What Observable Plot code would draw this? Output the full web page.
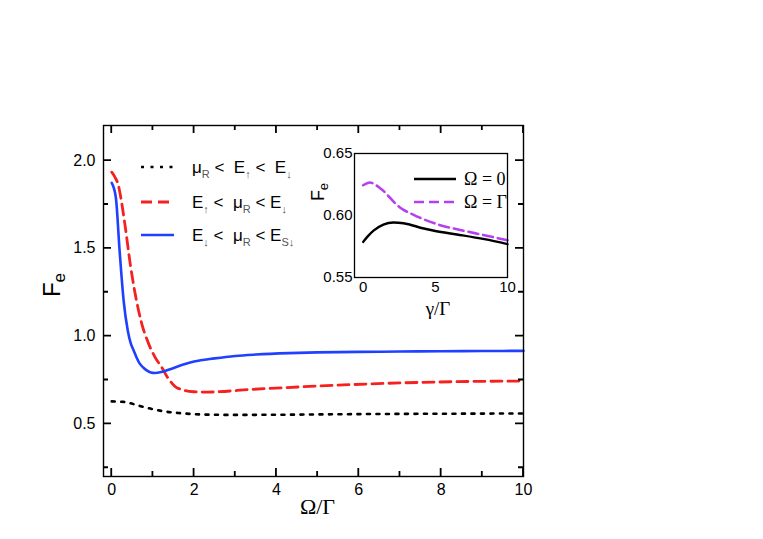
<!DOCTYPE html>
<html><head><meta charset="utf-8">
<script src="https://cdn.jsdelivr.net/npm/d3@7"></script>
<script src="https://cdn.jsdelivr.net/npm/@observablehq/plot@0.6"></script>
<style>
body{margin:0;background:#fff}
</style>
</head><body><div id="wrap"></div>
<script>
// ---- main panel data (F_e vs Ω/Γ) ----
const blackX = [0, 0.3, 0.65, 0.97, 1.3, 1.66, 2.23, 2.88, 4.1, 5.7, 7.3, 10];
const blackY = [0.628, 0.625, 0.604, 0.585, 0.570, 0.561, 0.553, 0.551, 0.552, 0.555, 0.557, 0.559];
const redX = [0, 0.08, 0.16, 0.22, 0.33, 0.45, 0.57, 0.73, 0.89, 1.05, 1.22, 1.34, 1.45, 1.58, 1.99, 2.3, 3.45, 5.07, 6.7, 8.3, 10];
const redY = [1.934, 1.905, 1.86, 1.79, 1.62, 1.41, 1.24, 1.07, 0.96, 0.88, 0.82, 0.77, 0.735, 0.706, 0.683, 0.681, 0.697, 0.716, 0.731, 0.740, 0.744];
const blueX = [0, 0.1, 0.19, 0.29, 0.39, 0.46, 0.53, 0.6, 0.68, 0.77, 0.85, 0.95, 1.05, 1.2, 1.4, 1.7, 2.0, 2.5, 3, 3.5, 4.3, 5, 6, 7, 8, 9, 10];
const blueY = [1.873, 1.79, 1.49, 1.20, 1.03, 0.96, 0.92, 0.88, 0.843, 0.82, 0.805, 0.793, 0.79, 0.795, 0.81, 0.835, 0.855, 0.873, 0.887, 0.895, 0.903, 0.907, 0.910, 0.912, 0.914, 0.915, 0.916];

// ---- inset data (F_e vs γ/Γ) ----
const insetBlackX = [0, 0.3, 0.74, 1.4, 2.1, 2.8, 4.2, 5, 6.5, 8.4, 10];
const insetBlackY = [0.5787, 0.583, 0.588, 0.5927, 0.5944, 0.5938, 0.5895, 0.5875, 0.5847, 0.5809, 0.5769];
const insetPurpleX = [0, 0.46, 1.2, 2.5, 3.8, 5.2, 6.8, 8.4, 10];
const insetPurpleY = [0.6244, 0.6266, 0.6218, 0.6069, 0.5989, 0.5927, 0.5881, 0.5841, 0.580];

// ---- ticks ----
const xMajor = [0, 2, 4, 6, 8, 10];
const xMinor = [1, 3, 5, 7, 9];
const yMajor = [0.5, 1.0, 1.5, 2.0];
const yMinor = [0.25, 0.75, 1.25, 1.75];
const insetXTicks = [0, 5, 10];
const insetYTicks = [0.55, 0.60, 0.65];

// ---- labels ----
const xLabel = "Ω/Γ";
const insetXLabel = "γ/Γ";
const legendMain = [
  [["μ"], ["R", 1], [" <  E"], ["↑", 1], [" <  E"], ["↓", 1]],
  [["E"], ["↑", 1], [" <  μ"], ["R", 1], [" < E"], ["↓", 1]],
  [["E"], ["↓", 1], [" <  μ"], ["R", 1], [" < E"], ["S↓", 1]]
];
const legendInset = ["Ω = 0", "Ω = Γ"];

const colBlack = "#000", colRed = "#f52020", colBlue = "#2040ff", colPurple = "#b540f0";
const sty = {
  black: {stroke: colBlack, strokeWidth: 2.6, strokeDasharray: "3,6.5"},
  red: {stroke: colRed, strokeWidth: 2.8, strokeDasharray: "11,6"},
  blue: {stroke: colBlue, strokeWidth: 2.6},
  iblack: {stroke: colBlack, strokeWidth: 2.4},
  ipurple: {stroke: colPurple, strokeWidth: 2.6, strokeDasharray: "10,5"}
};
const zip = (xs, ys) => xs.map((x, i) => ({x, y: ys[i]}));

const W = 763, H = 539;
const mL = 103, mR = 240, mT = 125, mB = 63;
const pw = W - mL - mR, ph = H - mT - mB;
const sans = "'Liberation Sans', Arial, sans-serif";
const serif = "'Liberation Serif', 'Times New Roman', serif";

const main = Plot.plot({
  width: W, height: H,
  marginLeft: mL, marginRight: mR, marginTop: mT, marginBottom: mB,
  style: {fontFamily: sans, fontSize: "16px", background: "transparent"},
  x: {domain: [-0.2, 10]},
  y: {domain: [0.2, 2.2]},
  marks: [
    Plot.axisX(xMajor, {tickSize: 0, tickPadding: 7, fontSize: 16, label: null}),
    Plot.axisY(yMajor, {tickSize: 0, tickPadding: 8, fontSize: 16, label: null, tickFormat: d3.format(".1f")}),
    Plot.line(zip(blackX, blackY), {x: "x", y: "y", curve: "monotone-x", ...sty.black}),
    Plot.line(zip(redX, redY), {x: "x", y: "y", curve: "monotone-x", ...sty.red}),
    Plot.line(zip(blueX, blueY), {x: "x", y: "y", curve: "monotone-x", ...sty.blue}),
    Plot.frame({stroke: "#000", strokeWidth: 1.4}),
    Plot.text([xLabel], {frameAnchor: "bottom", dy: 37, dx: 4, fontFamily: serif, fontSize: 22, text: d => d})
  ]
});

const inL = 354, inR = W - 507, inT = 153, inB = H - 277;
const inset = Plot.plot({
  width: W, height: H,
  marginLeft: inL, marginRight: inR, marginTop: inT, marginBottom: inB,
  style: {fontFamily: sans, fontSize: "14px", background: "transparent"},
  x: {domain: [-0.6, 10]},
  y: {domain: [0.55, 0.65]},
  marks: [
    Plot.axisX(insetXTicks, {tickSize: 0, tickPadding: 4, fontSize: 15, label: null}),
    Plot.axisY(insetYTicks, {tickSize: 0, tickPadding: 2, fontSize: 15, label: null, tickFormat: d3.format(".2f")}),
    Plot.line(zip(insetBlackX, insetBlackY), {x: "x", y: "y", curve: "monotone-x", ...sty.iblack}),
    Plot.line(zip(insetPurpleX, insetPurpleY), {x: "x", y: "y", curve: "monotone-x", ...sty.ipurple}),
    Plot.frame({stroke: "#000", strokeWidth: 1.3}),
    Plot.text([insetXLabel], {frameAnchor: "bottom", dy: 37, dx: 7, fontFamily: serif, fontSize: 19, text: d => d})
  ]
});

document.getElementById("wrap").appendChild(main);
// nest the inset inside the main SVG (single picture)
inset.setAttribute("x", 0);
inset.setAttribute("y", 0);
main.appendChild(inset);

const ms = d3.select(main);
const is = d3.select(inset);

// inward ticks on all four sides of the main frame, placed through Plot's scales
const sx = main.scale("x"), sy = main.scale("y");
const fx0 = mL, fx1 = W - mR, fy0 = mT, fy1 = H - mB;
const tg = ms.append("g").attr("stroke", "#000").attr("stroke-width", 1.8).attr("fill", "none");
[[xMajor, 8], [xMinor, 5]].forEach(([ticks, len]) => ticks.forEach(v => {
  const px = sx.apply(v);
  tg.append("path").attr("d", `M${px},${fy1}V${fy1 - len}M${px},${fy0}V${fy0 + len}`);
}));
[[yMajor, 8], [yMinor, 5]].forEach(([ticks, len]) => ticks.forEach(v => {
  const py = sy.apply(v);
  tg.append("path").attr("d", `M${fx0},${py}H${fx0 + len}M${fx1},${py}H${fx1 - len}`);
}));

// Main y label "F_e"
const fe = ms.append("text").attr("transform", "translate(60,285) rotate(-90)")
  .attr("text-anchor", "middle").attr("font-family", sans).attr("font-size", 24).attr("fill", "#000");
fe.append("tspan").text("F");
fe.append("tspan").attr("dy", 5).attr("font-size", 17).text("e");

// Main legend
const lgY = [167, 202, 235];
const lgSty = [sty.black, sty.red, sty.blue];
legendMain.forEach((parts, i) => {
  const s = lgSty[i];
  ms.append("line").attr("x1", 141).attr("x2", 174).attr("y1", lgY[i]).attr("y2", lgY[i])
    .attr("stroke", s.stroke).attr("stroke-width", s.strokeWidth)
    .attr("stroke-dasharray", s.strokeDasharray || null);
  const t = ms.append("text").attr("x", 192).attr("y", lgY[i] + 6).attr("text-anchor", "start")
    .attr("font-family", sans).attr("font-size", 17).attr("fill", "#000").style("white-space", "pre");
  let down = false;
  parts.forEach(([str, sub]) => {
    const sp = t.append("tspan").text(str);
    if (sub && !down) { sp.attr("dy", 5).attr("font-size", 11).attr("fill", "#555"); down = true; }
    else if (!sub && down) { sp.attr("dy", -5); down = false; }
    else if (sub) { sp.attr("font-size", 11).attr("fill", "#555"); }
  });
});

// Inset y label and legend
const fe2 = is.append("text").attr("transform", "translate(324,192) rotate(-90)")
  .attr("text-anchor", "middle").attr("font-family", sans).attr("font-size", 18).attr("fill", "#000");
fe2.append("tspan").text("F");
fe2.append("tspan").attr("dy", 4).attr("font-size", 13).text("e");

const ilY = [179, 202];
const ilSty = [sty.iblack, sty.ipurple];
legendInset.forEach((lab, i) => {
  const s = ilSty[i];
  is.append("line").attr("x1", 414).attr("x2", 456).attr("y1", ilY[i]).attr("y2", ilY[i])
    .attr("stroke", s.stroke).attr("stroke-width", s.strokeWidth)
    .attr("stroke-dasharray", s.strokeDasharray || null);
  is.append("text").attr("x", 464).attr("y", ilY[i] + 6).attr("text-anchor", "start").attr("font-family", serif)
    .attr("font-size", 18).attr("fill", "#000").text(lab);
});
</script>
</body></html>
